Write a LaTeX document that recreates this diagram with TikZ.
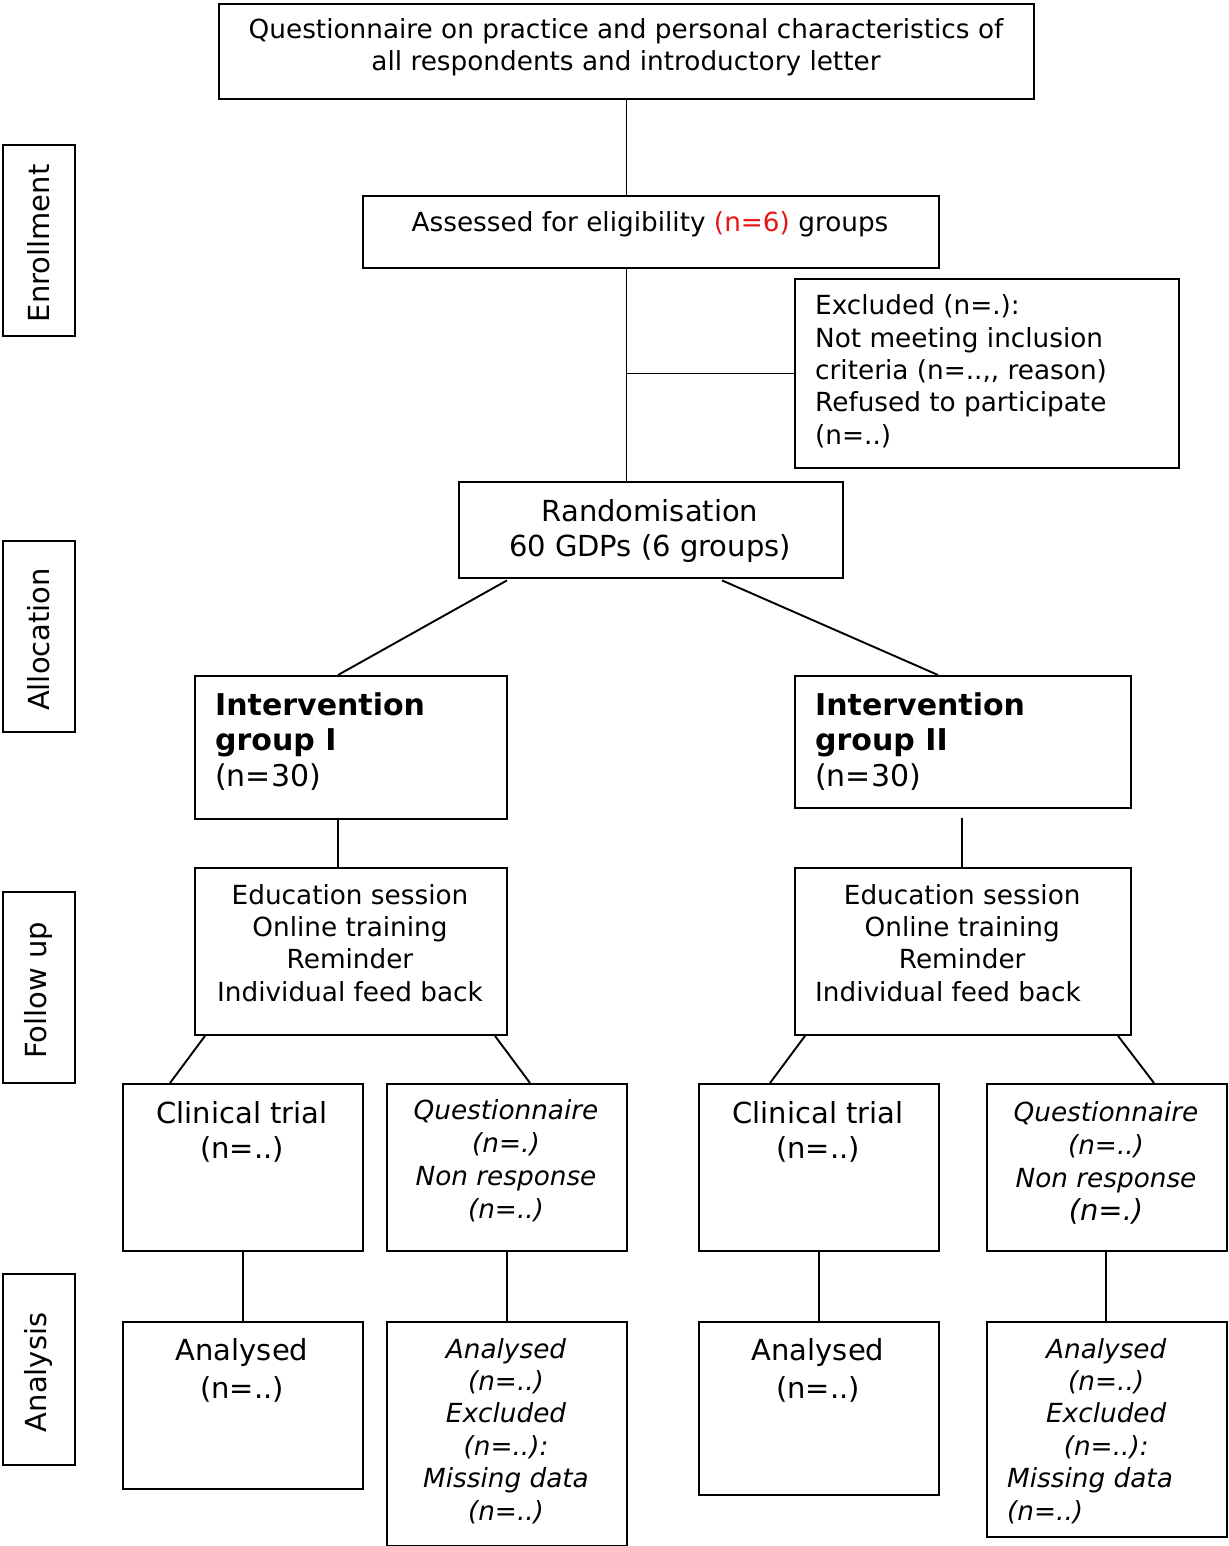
\documentclass[tikz,border=0pt]{standalone}
\usepackage{fontspec}
\setmainfont{DejaVu Sans}
\definecolor{nred}{RGB}{230,20,20}
\tikzset{
  box/.style={draw=black, line width=1.9pt, inner sep=0pt, anchor=north west},
  conn/.style={draw=black, line width=1.9pt},
  sm/.style={font=\fontsize{26.3}{32.3}\selectfont, inner sep=0pt, anchor=base},
  big/.style={font=\fontsize{29}{35}\selectfont, inner sep=0pt, anchor=base},
  side/.style={font=\fontsize{29}{32}\selectfont, inner sep=0pt, rotate=90},
}
\newcommand{\bx}[5]{\node[box, minimum width=#4pt, minimum height=#5pt] (#1) at (#2,#3) {};}
\begin{document}
\begin{tikzpicture}[x=1pt,y=-1pt]
\useasboundingbox (0,0) rectangle (1228,1546);
% side boxes
\bx{sEnr}{2}{144}{72}{191}
\bx{sAll}{2}{540}{72}{191}
\bx{sFol}{2}{891}{72}{191}
\bx{sAna}{2}{1273}{72}{191}
\node[side] (tEnr) at ([yshift=-3pt]sEnr.center) {Enrollment};
\node[side] (tAll) at ([yshift=-3pt]sAll.center) {Allocation};
\node[side] (tFol) at ([yshift=-3pt]sFol.center) {Follow up};
\node[side] (tAna) at ([yshift=-3pt]sAna.center) {Analysis};
% main boxes
\bx{top}{218}{3}{815}{95}
\bx{elig}{362}{195}{576}{72}
\bx{excl}{794}{278}{384}{189}
\bx{rand}{458}{481}{384}{96}
\bx{int1}{194}{675}{312}{143}
\bx{int2}{794}{675}{336}{132}
\bx{edu1}{194}{867}{312}{167}
\bx{edu2}{794}{867}{336}{167}
\bx{clin1}{122}{1083}{240}{167}
\bx{q1}{386}{1083}{240}{167}
\bx{clin2}{698}{1083}{240}{167}
\bx{q2}{986}{1083}{240}{167}
\bx{an1}{122}{1321}{240}{167}
\bx{aq1}{386}{1321}{240}{224}
\bx{an2}{698}{1321}{240}{173}
\bx{aq2}{986}{1321}{240}{215}
% texts (anchor base = baseline of the last line)
\node[sm, align=center, font=\fontsize{26.3}{32}\selectfont] (ttop) at (626,71) {Questionnaire on practice and personal characteristics of\\all respondents and introductory letter};
\node[sm] (telig) at (650,232) {Assessed for eligibility \textcolor{nred}{(n=6)} groups};
\node[sm, anchor=base west, align=left] (texcl) at (815,444) {Excluded (n=.):\\Not meeting inclusion\\criteria (n=..,{},{} reason)\\Refused to participate\\(n=..)};
\node[big, align=center] (trand) at (650,556) {Randomisation\\60 GDPs (6 groups)};
\node[big, anchor=base west, align=left, font=\fontsize{30}{35.5}\selectfont] (tint1) at (215,786) {\textbf{Intervention}\\\textbf{group I}\\(n=30)};
\node[big, anchor=base west, align=left, font=\fontsize{30}{35.5}\selectfont] (tint2) at (815,786) {\textbf{Intervention}\\\textbf{group II}\\(n=30)};
\node[sm, align=center] (tedu1) at (350,1001) {Education session\\Online training\\Reminder\\Individual feed back};
\node[sm, anchor=base west, align=left] (tedu2) at (815,1001) {\makebox[294pt]{Education session}\\\makebox[294pt]{Online training}\\\makebox[294pt]{Reminder}\\Individual feed back};
\node[big, align=center] (tclin1) at (242,1158) {Clinical trial\\(n=..)};
\node[big, align=center] (tclin2) at (818,1158) {Clinical trial\\(n=..)};
\node[sm, align=center, font=\fontsize{26.3}{32.7}\selectfont\itshape] (tq1) at (506,1218) {Questionnaire\\(n=.)\\Non response\\(n=..)};
\node[sm, align=center, font=\fontsize{26.3}{32.7}\selectfont\itshape] (tq2) at (1106,1220) {Questionnaire\\(n=..)\\Non response\\{\fontsize{29}{32.7}\selectfont(n=.)}};
\node[big, align=center, font=\fontsize{29}{38}\selectfont] (tan1) at (242,1398) {Analysed\\(n=..)};
\node[big, align=center, font=\fontsize{29}{38}\selectfont] (tan2) at (818,1398) {Analysed\\(n=..)};
\node[sm, align=center, font=\fontsize{26.3}{32.4}\selectfont\itshape] (taq1) at (506,1520) {Analysed\\(n=..)\\Excluded\\(n=..):\\Missing data\\(n=..)};
\node[sm, anchor=base west, align=left, font=\fontsize{26.3}{32.4}\selectfont\itshape] (taq2) at (1007,1520) {\makebox[198pt]{Analysed}\\\makebox[198pt]{(n=..)}\\\makebox[198pt]{Excluded}\\\makebox[198pt]{(n=..):}\\Missing data\\(n=..)};
% connectors
\draw[conn] (top.south) -- (top.south |- elig.north);
\draw[conn] (top.south |- elig.south) -- (top.south |- rand.north);
\draw[conn] (excl.west) -- (excl.west -| top.south);
\draw[conn] ([xshift=49pt,yshift=-1.5pt]rand.south west) -- ([xshift=144pt]int1.north west);
\draw[conn] ([xshift=264pt,yshift=-1.5pt]rand.south west) -- ([xshift=144pt]int2.north west);
\draw[conn] ([xshift=144pt]int1.south west) -- ([xshift=144pt]edu1.north west);
\coordinate (c2) at (962,818);
\draw[conn] (c2) -- ([xshift=168pt]edu2.north west);
\draw[conn] ([xshift=11pt]edu1.south west) -- ([xshift=48pt]clin1.north west);
\draw[conn] ([xshift=301pt]edu1.south west) -- ([xshift=144pt]q1.north west);
\draw[conn] ([xshift=11pt]edu2.south west) -- ([xshift=72pt]clin2.north west);
\draw[conn] ([xshift=324pt]edu2.south west) -- ([xshift=168pt]q2.north west);
\draw[conn] (clin1.south) -- (an1.north);
\draw[conn] (q1.south) -- (aq1.north);
\draw[conn] (clin2.south) -- (an2.north);
\draw[conn] ([xshift=120pt]q2.south west) -- ([xshift=120pt]aq2.north west);
\end{tikzpicture}
\end{document}
